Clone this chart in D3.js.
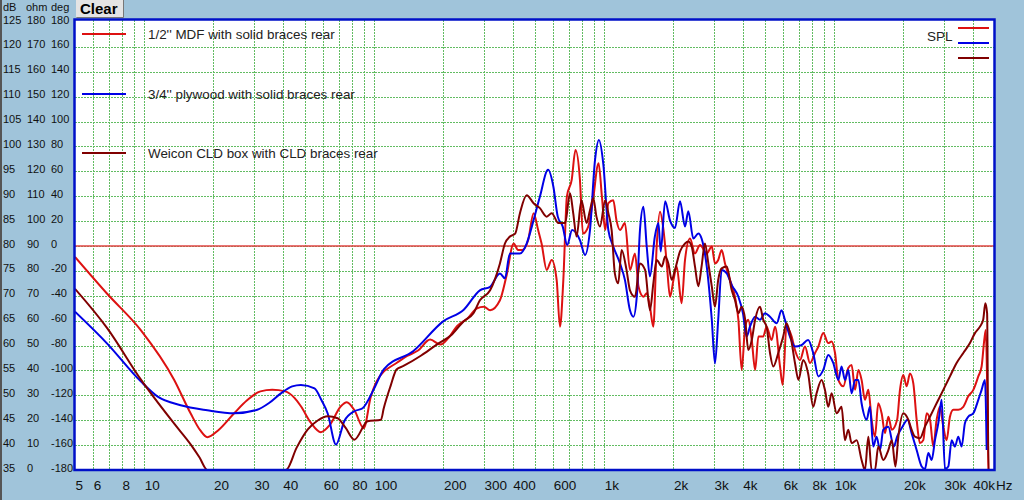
<!DOCTYPE html>
<html>
<head>
<meta charset="utf-8">
<script src="https://cdn.jsdelivr.net/npm/d3@7"></script>
<style>
body { margin:0; background:#a0c4da; overflow:hidden; }
svg { display:block; font-family:"Liberation Sans", Arial, sans-serif; }
</style>
</head>
<body>
<svg id="chart" width="1024" height="500"></svg>
<script>

// series as [Hz, dB]
var mdfData = [[5,77.8],[6.9,70.4],[9.66,63.1],[13.5,53.1],[15.9,46.4],[17.5,43],[18.8,41.6],[21,43],[24.6,46.4],[28,49],[32,50.8],[36,51.1],[41,50.8],[45,49.5],[48,47.8],[53,44.5],[58.6,42.6],[64,44],[71.6,47.8],[76,48.6],[82,47],[90,43.4],[96.6,49.7],[110,54.8],[113,55.2],[125,56.5],[139,57.9],[155,59],[175,61.2],[194,60.2],[210,61.5],[229,63.9],[255,65.5],[280,67.5],[300,67.8],[319,67.1],[352,69.1],[375,73.8],[404,80.5],[422,79.2],[440,79.2],[467,81.2],[493,86.6],[516,83.2],[534,80.5],[562,75.2],[591,77.2],[621,73.2],[642,63.8],[664,73.2],[688,89.9],[722,93.3],[750,99.3],[784,93.3],[808,82.5],[852,83.9],[890,88.6],[945,96.6],[977,89.9],[1010,83.2],[1042,88.6],[1095,89.2],[1130,85.2],[1171,83.2],[1230,84.6],[1294,75.2],[1360,78.5],[1410,71.8],[1480,69.8],[1530,70.5],[1580,67.8],[1635,63.8],[1690,79.9],[1748,86.9],[1810,83.2],[1870,76.5],[1932,69.8],[2000,73.2],[2065,75.9],[2170,68.5],[2245,77.2],[2360,81.5],[2480,78.5],[2609,80.2],[2790,78.5],[2935,79.9],[3030,76.5],[3130,77.2],[3240,79.2],[3350,76.5],[3523,73.2],[3700,69.8],[3830,65.2],[3960,55.1],[4100,63.8],[4230,65.2],[4380,61.1],[4530,55.1],[4680,61.8],[4910,61.8],[5080,63.8],[5340,61.1],[5530,63.8],[5811,55.8],[5970,52.1],[6200,63.8],[6530,61.8],[6750,59.1],[7100,57.1],[7460,59.8],[7844,56.5],[8250,58.5],[8530,59.8],[8960,62.5],[9420,60.5],[9740,60.8],[10080,58.5],[10420,53.1],[10950,51.8],[11510,55.5],[11900,56.1],[12320,51.1],[12730,55.1],[13150,53.1],[13600,49.1],[14070,51.1],[14540,45.1],[15030,41.7],[15540,48.4],[16070,46.4],[16620,42.4],[17190,45.7],[17800,43.1],[18770,45.1],[19310,51.1],[19970,54.1],[20650,51.8],[21340,54.4],[22070,52.4],[22820,45.1],[23590,40.4],[24390,41.0],[25220,46.4],[26080,45.1],[26960,39.7],[27870,45.1],[28820,47.7],[29800,43.7],[30810,41.0],[31850,45.7],[32930,47.1],[34620,47.1],[36400,47.7],[38250,49.8],[40240,51.1],[42300,53.8],[43730,55.8],[44900,61.1],[45600,63.1],[46300,50],[46800,35]];

var plyData = [[5,66.8],[6.9,60.4],[9.66,52.8],[11.4,49.8],[14.4,48.0],[18.8,47.0],[24.6,46.4],[31,47.1],[35,48.5],[39.3,50.4],[44,51.8],[48,52.1],[55,51.4],[59,49],[62.7,46.4],[68.2,40.1],[74.1,44.8],[81.9,46.8],[89,47.4],[100,51.4],[110,55.2],[148,58.9],[200,64.9],[245,67.2],[288,71.1],[319,71.8],[352,74.5],[370,73.5],[389,78.5],[430,78.5],[460,80.5],[493,85.2],[525,89.9],[570,95.3],[601,91.9],[628,85.9],[660,83.9],[690,80.2],[725,83.2],[784,81.2],[825,78.2],[867,83.2],[912,97.3],[948,101.3],[990,96.6],[1042,83.2],[1095,79.9],[1171,76.5],[1230,73.2],[1294,67.1],[1340,65.8],[1385,69.8],[1430,83.2],[1480,87.9],[1530,79.9],[1580,73.9],[1660,81.9],[1720,84.6],[1760,78.9],[1840,89.0],[1930,85.2],[2030,83.6],[2135,89.0],[2245,83.9],[2320,87.0],[2440,81.5],[2565,82.5],[2650,81.5],[2790,75.9],[2935,65.2],[3030,56.4],[3130,65.2],[3240,75.2],[3410,74.5],[3580,72.2],[3830,69.8],[4010,66.5],[4160,61.8],[4300,63.8],[4530,65.8],[4757,65.2],[5000,66.5],[5257,65.8],[5620,64.5],[5900,67.1],[6100,65.2],[6420,61.8],[6750,59.8],[7200,60.1],[7700,61.1],[8100,58.5],[8530,53.8],[8960,55.1],[9420,58.1],[9900,56.5],[10420,53.1],[10760,55.8],[11130,53.1],[11510,55.1],[11900,50.4],[12320,53.1],[12730,53.1],[13150,48.4],[13830,45.1],[14300,47.7],[14780,39.7],[15280,41.7],[15810,39.0],[16340,43.1],[17190,43.7],[18150,39.7],[18770,41.7],[19800,43.7],[20850,45.1],[21700,42.4],[22820,39.0],[24000,35.7],[24800,35.2],[25650,38.4],[26520,37.0],[27420,41.0],[28350,44.4],[29310,49.1],[30300,35.2],[31330,35.7],[32380,41.0],[33480,39.7],[34620,41.7],[35800,39.7],[37000,44.4],[38250,45.7],[40240,46.4],[42300,49.1],[43730,51.1],[45210,53.1],[46000,39.0]];

var cldData = [[5,71.4],[6.9,63.5],[9.66,53.2],[13.5,44.3],[16,40],[17.4,37.5],[18.8,35],[41.3,35],[46,39.5],[51.3,43.1],[57,45],[62.7,45.8],[69.3,45.4],[75,43.5],[81.9,41.1],[93.6,44.8],[107,45.1],[110,47.4],[118,52],[125,55.2],[134,55.9],[160,58],[187,60.2],[215,62],[245,64.9],[270,66.5],[288,69.1],[319,71.1],[352,76.5],[370,80.5],[389,81.9],[410,82.5],[430,86.6],[460,90.2],[493,88.6],[525,87.6],[562,85.9],[591,86.6],[632,84.6],[676,84.6],[710,90.6],[733,86.6],[758,81.9],[796,89.2],[838,84.6],[867,87.2],[896,89.6],[925,85.9],[958,83.9],[1010,89.2],[1042,86.6],[1077,83.2],[1112,74.5],[1150,72.5],[1190,79.2],[1250,75.2],[1294,71.1],[1360,69.8],[1430,76.5],[1505,75.2],[1581,67.1],[1635,72.5],[1690,77.2],[1780,75.9],[1840,77.9],[1900,76.5],[1965,73.2],[2030,75.2],[2135,78.9],[2245,80.5],[2320,80.9],[2400,79.9],[2480,75.9],[2565,71.9],[2650,75.9],[2740,80.5],[2835,76.5],[2935,71.9],[3030,67.8],[3130,73.2],[3240,75.5],[3410,75.9],[3580,71.2],[3700,69.2],[3830,66.5],[3960,67.8],[4100,65.2],[4230,59.1],[4380,61.1],[4530,65.2],[4757,67.8],[4910,65.2],[5080,63.8],[5257,58.5],[5430,55.8],[5710,58.5],[6000,61.8],[6200,64.5],[6420,62.5],[6750,56.5],[6990,53.1],[7330,57.1],[7700,54.4],[8100,47.7],[8380,50.4],[8810,53.1],[9110,51.1],[9420,47.7],[9740,50.4],[10250,46.4],[10760,47.7],[11130,41.0],[11510,43.1],[11900,40.4],[12520,41.0],[13150,37.0],[13600,35],[14070,41.7],[14540,35],[15030,35],[15540,39.7],[16340,37.0],[17190,39.0],[17800,41.0],[18450,35.7],[19000,41.7],[19970,46.4],[20990,45.1],[21700,43.1],[22440,41.7],[23590,41.4],[24800,43.7],[26080,45.7],[27870,48.4],[29800,51.1],[31850,53.8],[34040,56.5],[36400,58.5],[38910,60.5],[40900,62.5],[43010,63.8],[44420,65.2],[45400,68.5],[46200,66.5],[46850,35],[50000,35]];

var seriesNames = ["1/2'' MDF with solid braces rear", "3/4'' plywood with solid braces rear", "Weicon CLD box with CLD braces rear"];
var seriesColors = ['#dd1111', '#0000e6', '#800000'];

var xTickValues = [5,6,8,10,20,30,40,60,80,100,200,300,400,600,1000,2000,3000,4000,6000,8000,10000,20000,30000,40000];
var xTickLabels = ['5','6','8','10','20','30','40','60','80','100','200','300','400','600','1k','2k','3k','4k','6k','8k','10k','20k','30k','40k'];
var dbTicks = [125,120,115,110,105,100,95,90,85,80,75,70,65,60,55,50,45,40,35];
var ohmLabels = ['180','170','160','150','140','130','120','110','100','90','80','70','60','50','40','30','20','10','0'];
var degLabels = ['180','160','140','120','100','80','60','40','20','0','-20','-40','-60','-80','-100','-120','-140','-160','-180'];
var refLevel = 80;

var svg = d3.select('#chart');

var x = d3.scaleLog().domain([5, 50000]).range([75, 995]);
var y = d3.scaleLinear().domain([35, 125]).range([470, 22]);

// left window edge
svg.append('rect').attr('x', 0).attr('y', 0).attr('width', 2).attr('height', 500).attr('fill', '#555');

// plot area
svg.append('rect')
    .attr('x', x(5)).attr('y', 19.5)
    .attr('width', x(50000) - x(5)).attr('height', 470 - 19.5)
    .attr('fill', 'white');

svg.append('clipPath').attr('id', 'plotclip')
    .append('rect')
    .attr('x', x(5)).attr('y', 19.5)
    .attr('width', x(50000) - x(5)).attr('height', 470 - 19.5);

// grid
var gridX = [];
[1, 10, 100, 1000, 10000].forEach(function(dec){
    for (var m = 1; m <= 9; m++) {
        var v = m * dec;
        if (v > 5 && v < 50000) gridX.push(v);
    }
});

var grid = svg.append('g').attr('class', 'grid');
grid.selectAll('.gx').data(gridX).enter()
    .append('line')
    .attr('x1', function(d){ return Math.round(x(d)) + 0.5; })
    .attr('x2', function(d){ return Math.round(x(d)) + 0.5; })
    .attr('y1', 20).attr('y2', 470)
    .attr('stroke', '#62bc62').attr('stroke-width', 1).attr('stroke-dasharray', '2,1');

grid.selectAll('.gy').data(dbTicks.slice(1, -1)).enter()
    .append('line')
    .attr('x1', 75).attr('x2', 995)
    .attr('y1', function(d){ return Math.round(y(d)) + 0.5; })
    .attr('y2', function(d){ return Math.round(y(d)) + 0.5; })
    .attr('stroke', '#62bc62').attr('stroke-width', 1).attr('stroke-dasharray', '2,1');

// reference line
svg.append('line')
    .attr('x1', 75).attr('x2', 995)
    .attr('y1', y(refLevel)).attr('y2', y(refLevel))
    .attr('stroke', '#e24545').attr('stroke-width', 1.3);

// curves
var line = d3.line()
    .curve(d3.curveMonotoneX)
    .x(function(d){ return x(d[0]); })
    .y(function(d){ return y(Math.max(35, d[1])); });

var curves = svg.append('g').attr('clip-path', 'url(#plotclip)');
[mdfData, plyData, cldData].forEach(function(s, i){
    curves.append('path')
        .datum(s)
        .attr('d', line)
        .attr('fill', 'none')
        .attr('stroke', seriesColors[i])
        .attr('stroke-width', 2)
        .attr('stroke-linejoin', 'round');
});

// border
svg.append('rect')
    .attr('x', x(5) - 0.5).attr('y', 19.5)
    .attr('width', x(50000) - x(5)).attr('height', 470 - 19.5)
    .attr('fill', 'none')
    .attr('stroke', '#0010c8').attr('stroke-width', 2.5);

// x axis labels, left aligned at the grid line
var xAxis = d3.axisBottom(x)
    .tickValues(xTickValues)
    .tickFormat(function(d, i){ return xTickLabels[i]; })
    .tickSize(0).tickPadding(10);

var gx = svg.append('g').attr('transform', 'translate(0,470)').call(xAxis);
gx.select('.domain').remove();
gx.selectAll('text')
    .attr('text-anchor', 'start')
    .attr('fill', '#111')
    .style('font-size', '13.5px')
    .style('font-family', '"Liberation Sans", Arial, sans-serif');

svg.append('text')
    .attr('x', 996).attr('y', 490)
    .attr('fill', '#111')
    .style('font-size', '13.5px')
    .text('Hz');

// y axis labels: three columns from the same dB scale
function yColumn(xpos, fmt) {
    var ax = d3.axisRight(y).tickValues(dbTicks).tickFormat(fmt).tickSize(0).tickPadding(0);
    var g = svg.append('g').attr('transform', 'translate(' + xpos + ',0)').call(ax);
    g.select('.domain').remove();
    g.selectAll('text')
        .attr('dy', '0.1em')
        .attr('fill', '#111')
        .style('font-size', '11px')
        .style('font-family', '"Liberation Sans", Arial, sans-serif');
}
yColumn(3, function(d){ return d; });
yColumn(27, function(d, i){ return ohmLabels[i]; });
yColumn(51, function(d, i){ return degLabels[i]; });

[['dB', 3], ['ohm', 26], ['deg', 51]].forEach(function(h){
    svg.append('text').attr('x', h[1]).attr('y', 10.5)
        .attr('fill', '#111').style('font-size', '11px').text(h[0]);
});

// Clear button
svg.append('rect').attr('x', 76).attr('y', 0).attr('width', 47).attr('height', 17)
    .attr('fill', '#e4e4e4');
svg.append('path').attr('d', 'M76.5,17.5 H123.5 V0')
    .attr('fill', 'none').attr('stroke', '#777').attr('stroke-width', 1);
svg.append('text').attr('x', 80).attr('y', 14)
    .attr('fill', '#000').style('font-size', '15px').style('font-weight', 'bold')
    .text('Clear');

// legend inside the plot
var legendY = [34, 94, 153];
var legend = svg.append('g');
seriesNames.forEach(function(name, i){
    legend.append('line')
        .attr('x1', 82).attr('x2', 126)
        .attr('y1', legendY[i]).attr('y2', legendY[i])
        .attr('stroke', seriesColors[i]).attr('stroke-width', 2);
    legend.append('text')
        .attr('x', 148).attr('y', legendY[i] + 4.5)
        .attr('fill', '#222').style('font-size', '13.4px')
        .text(name);
});

// SPL key at the top right
svg.append('text').attr('x', 927).attr('y', 41)
    .attr('fill', '#222').style('font-size', '13.5px').text('SPL');
[28, 43, 58].forEach(function(ly, i){
    svg.append('line')
        .attr('x1', 958).attr('x2', 989)
        .attr('y1', ly).attr('y2', ly)
        .attr('stroke', seriesColors[i]).attr('stroke-width', 2);
});

</script>
</body>
</html>
